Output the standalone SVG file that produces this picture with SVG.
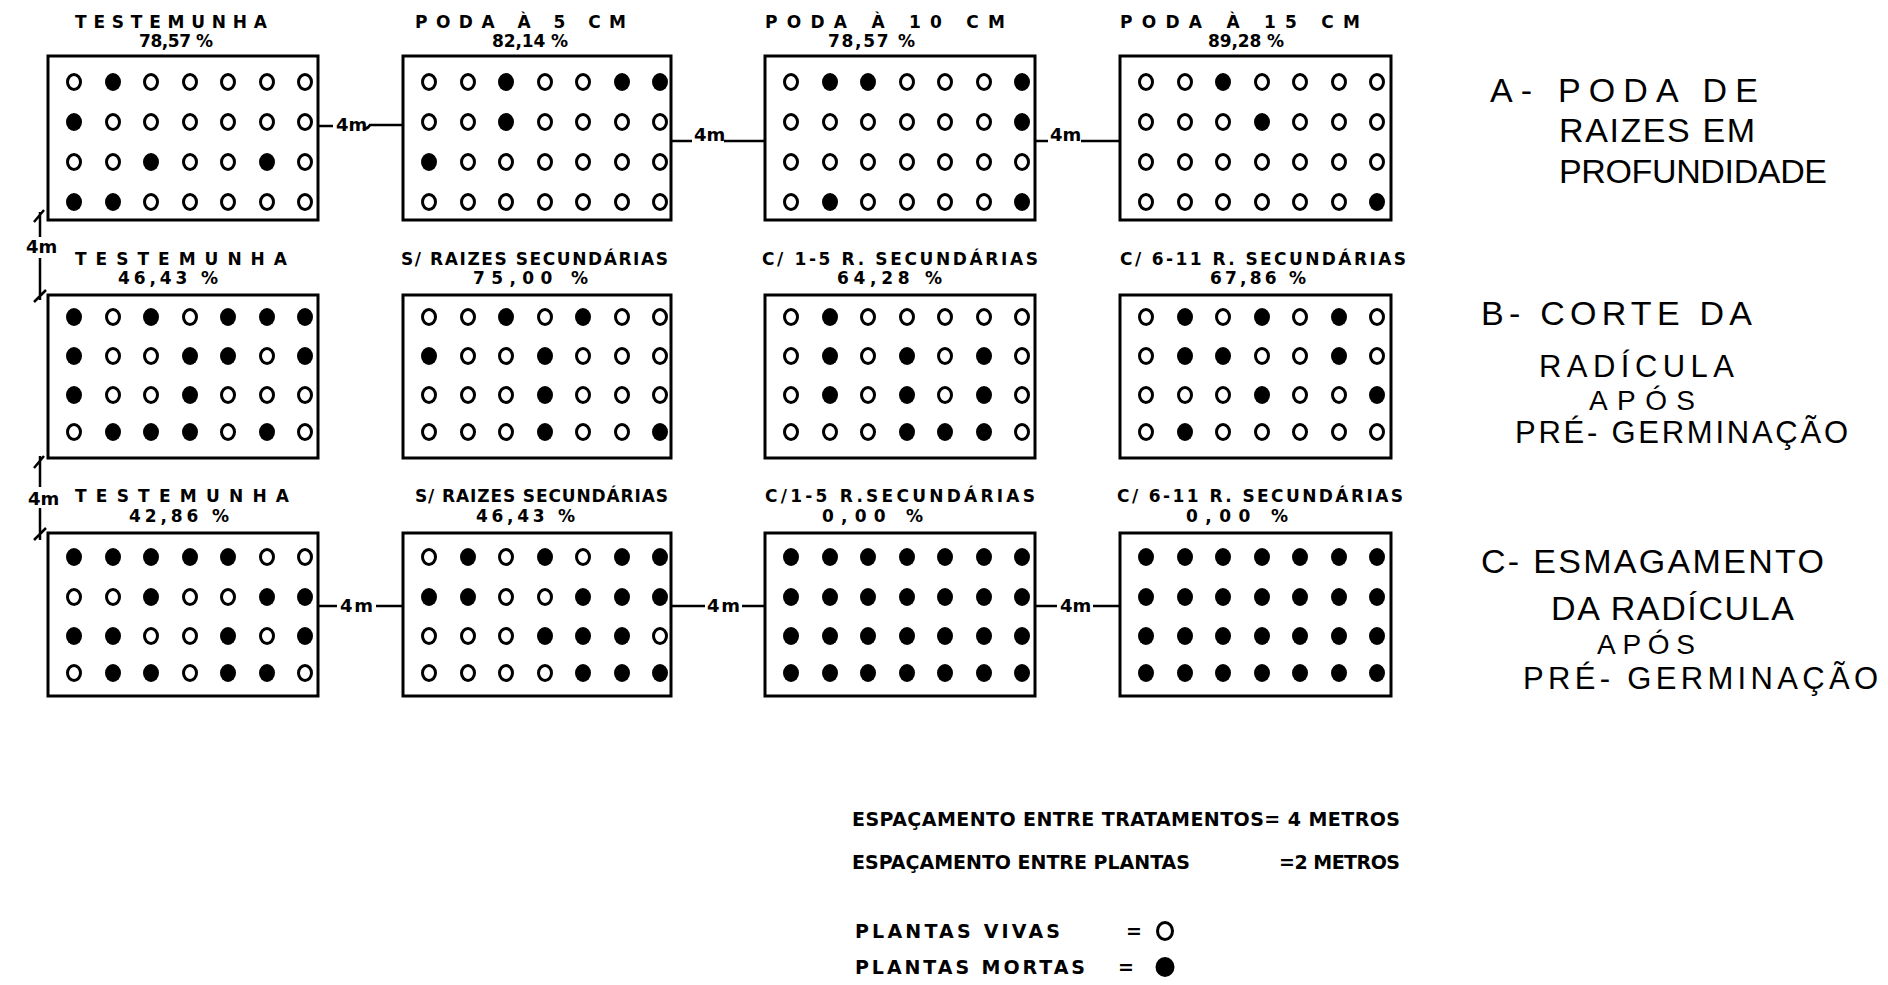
<svg xmlns="http://www.w3.org/2000/svg" xmlns:xlink="http://www.w3.org/1999/xlink" width="1888" height="985" viewBox="0 0 1888 985">
<style>
.bx{fill:none;stroke:#000;stroke-width:3}
.o{fill:none;stroke:#000;stroke-width:3}
.d{fill:#000}
.t{font-family:"DejaVu Sans","Liberation Sans",sans-serif;font-weight:bold;font-size:17px;fill:#000}
.m{font-family:"DejaVu Sans","Liberation Sans",sans-serif;font-weight:bold;font-size:18px;fill:#000}
.r{font-family:"Liberation Sans",Arial,sans-serif;font-size:34px;fill:#000}
.r2{font-family:"Liberation Sans",Arial,sans-serif;font-size:31px;fill:#000}
.r3{font-family:"Liberation Sans",Arial,sans-serif;font-size:28px;fill:#000}
.l{font-family:"DejaVu Sans","Liberation Sans",sans-serif;font-weight:bold;font-size:19px;fill:#000}
.c{fill:none;stroke:#000;stroke-width:2.5}
</style>
<defs>
<ellipse id="o" rx="6.5" ry="7.5" class="o"/>
<ellipse id="d" rx="8" ry="9" class="d"/>
</defs>
<rect width="1888" height="985" fill="#fff"/>

<g id="A1" transform="translate(48,56)">
<text class="t" x="27" y="-28" textLength="192" lengthAdjust="spacing">TESTEMUNHA</text>
<text class="t" x="91" y="-9" textLength="74" lengthAdjust="spacing">78,57 %</text>
<rect class="bx" x="0" y="0" width="270" height="164"/>
<g transform="translate(0,26)"><use href="#o" x="26"/><use href="#d" x="65"/><use href="#o" x="103"/><use href="#o" x="142"/><use href="#o" x="180"/><use href="#o" x="219"/><use href="#o" x="257"/></g>
<g transform="translate(0,66)"><use href="#d" x="26"/><use href="#o" x="65"/><use href="#o" x="103"/><use href="#o" x="142"/><use href="#o" x="180"/><use href="#o" x="219"/><use href="#o" x="257"/></g>
<g transform="translate(0,106)"><use href="#o" x="26"/><use href="#o" x="65"/><use href="#d" x="103"/><use href="#o" x="142"/><use href="#o" x="180"/><use href="#d" x="219"/><use href="#o" x="257"/></g>
<g transform="translate(0,146)"><use href="#d" x="26"/><use href="#d" x="65"/><use href="#o" x="103"/><use href="#o" x="142"/><use href="#o" x="180"/><use href="#o" x="219"/><use href="#o" x="257"/></g>
</g>

<g id="A2" transform="translate(403,56)">
<text class="t" x="12" y="-28" textLength="211" lengthAdjust="spacing">PODA À 5 CM</text>
<text class="t" x="89" y="-9" textLength="76" lengthAdjust="spacing">82,14 %</text>
<rect class="bx" x="0" y="0" width="268" height="164"/>
<g transform="translate(0,26)"><use href="#o" x="26"/><use href="#o" x="65"/><use href="#d" x="103"/><use href="#o" x="142"/><use href="#o" x="180"/><use href="#d" x="219"/><use href="#d" x="257"/></g>
<g transform="translate(0,66)"><use href="#o" x="26"/><use href="#o" x="65"/><use href="#d" x="103"/><use href="#o" x="142"/><use href="#o" x="180"/><use href="#o" x="219"/><use href="#o" x="257"/></g>
<g transform="translate(0,106)"><use href="#d" x="26"/><use href="#o" x="65"/><use href="#o" x="103"/><use href="#o" x="142"/><use href="#o" x="180"/><use href="#o" x="219"/><use href="#o" x="257"/></g>
<g transform="translate(0,146)"><use href="#o" x="26"/><use href="#o" x="65"/><use href="#o" x="103"/><use href="#o" x="142"/><use href="#o" x="180"/><use href="#o" x="219"/><use href="#o" x="257"/></g>
</g>

<g id="A3" transform="translate(765,56)">
<text class="t" x="0" y="-28" textLength="240" lengthAdjust="spacing">PODA À 10 CM</text>
<text class="t" x="63" y="-9" textLength="87" lengthAdjust="spacing">78,57 %</text>
<rect class="bx" x="0" y="0" width="270" height="164"/>
<g transform="translate(0,26)"><use href="#o" x="26"/><use href="#d" x="65"/><use href="#d" x="103"/><use href="#o" x="142"/><use href="#o" x="180"/><use href="#o" x="219"/><use href="#d" x="257"/></g>
<g transform="translate(0,66)"><use href="#o" x="26"/><use href="#o" x="65"/><use href="#o" x="103"/><use href="#o" x="142"/><use href="#o" x="180"/><use href="#o" x="219"/><use href="#d" x="257"/></g>
<g transform="translate(0,106)"><use href="#o" x="26"/><use href="#o" x="65"/><use href="#o" x="103"/><use href="#o" x="142"/><use href="#o" x="180"/><use href="#o" x="219"/><use href="#o" x="257"/></g>
<g transform="translate(0,146)"><use href="#o" x="26"/><use href="#d" x="65"/><use href="#o" x="103"/><use href="#o" x="142"/><use href="#o" x="180"/><use href="#o" x="219"/><use href="#d" x="257"/></g>
</g>

<g id="A4" transform="translate(1120,56)">
<text class="t" x="0" y="-28" textLength="240" lengthAdjust="spacing">PODA À 15 CM</text>
<text class="t" x="88" y="-9" textLength="76" lengthAdjust="spacing">89,28 %</text>
<rect class="bx" x="0" y="0" width="271" height="164"/>
<g transform="translate(0,26)"><use href="#o" x="26"/><use href="#o" x="65"/><use href="#d" x="103"/><use href="#o" x="142"/><use href="#o" x="180"/><use href="#o" x="219"/><use href="#o" x="257"/></g>
<g transform="translate(0,66)"><use href="#o" x="26"/><use href="#o" x="65"/><use href="#o" x="103"/><use href="#d" x="142"/><use href="#o" x="180"/><use href="#o" x="219"/><use href="#o" x="257"/></g>
<g transform="translate(0,106)"><use href="#o" x="26"/><use href="#o" x="65"/><use href="#o" x="103"/><use href="#o" x="142"/><use href="#o" x="180"/><use href="#o" x="219"/><use href="#o" x="257"/></g>
<g transform="translate(0,146)"><use href="#o" x="26"/><use href="#o" x="65"/><use href="#o" x="103"/><use href="#o" x="142"/><use href="#o" x="180"/><use href="#o" x="219"/><use href="#d" x="257"/></g>
</g>

<g id="B1" transform="translate(48,295)">
<text class="t" x="27" y="-30" textLength="212" lengthAdjust="spacing">TESTEMUNHA</text>
<text class="t" x="70" y="-11" textLength="100" lengthAdjust="spacing">46,43 %</text>
<rect class="bx" x="0" y="0" width="270" height="163"/>
<g transform="translate(0,22)"><use href="#d" x="26"/><use href="#o" x="65"/><use href="#d" x="103"/><use href="#o" x="142"/><use href="#d" x="180"/><use href="#d" x="219"/><use href="#d" x="257"/></g>
<g transform="translate(0,61)"><use href="#d" x="26"/><use href="#o" x="65"/><use href="#o" x="103"/><use href="#d" x="142"/><use href="#d" x="180"/><use href="#o" x="219"/><use href="#d" x="257"/></g>
<g transform="translate(0,100)"><use href="#d" x="26"/><use href="#o" x="65"/><use href="#o" x="103"/><use href="#d" x="142"/><use href="#o" x="180"/><use href="#o" x="219"/><use href="#o" x="257"/></g>
<g transform="translate(0,137)"><use href="#o" x="26"/><use href="#d" x="65"/><use href="#d" x="103"/><use href="#d" x="142"/><use href="#o" x="180"/><use href="#d" x="219"/><use href="#o" x="257"/></g>
</g>

<g id="B2" transform="translate(403,295)">
<text class="t" x="-2" y="-30" textLength="267" lengthAdjust="spacing">S/ RAIZES SECUNDÁRIAS</text>
<text class="t" x="70" y="-11" textLength="115" lengthAdjust="spacing">75,00 %</text>
<rect class="bx" x="0" y="0" width="268" height="163"/>
<g transform="translate(0,22)"><use href="#o" x="26"/><use href="#o" x="65"/><use href="#d" x="103"/><use href="#o" x="142"/><use href="#d" x="180"/><use href="#o" x="219"/><use href="#o" x="257"/></g>
<g transform="translate(0,61)"><use href="#d" x="26"/><use href="#o" x="65"/><use href="#o" x="103"/><use href="#d" x="142"/><use href="#o" x="180"/><use href="#o" x="219"/><use href="#o" x="257"/></g>
<g transform="translate(0,100)"><use href="#o" x="26"/><use href="#o" x="65"/><use href="#o" x="103"/><use href="#d" x="142"/><use href="#o" x="180"/><use href="#o" x="219"/><use href="#o" x="257"/></g>
<g transform="translate(0,137)"><use href="#o" x="26"/><use href="#o" x="65"/><use href="#o" x="103"/><use href="#d" x="142"/><use href="#o" x="180"/><use href="#o" x="219"/><use href="#d" x="257"/></g>
</g>

<g id="B3" transform="translate(765,295)">
<text class="t" x="-3" y="-30" textLength="276" lengthAdjust="spacing">C/ 1-5 R. SECUNDÁRIAS</text>
<text class="t" x="72" y="-11" textLength="105" lengthAdjust="spacing">64,28 %</text>
<rect class="bx" x="0" y="0" width="270" height="163"/>
<g transform="translate(0,22)"><use href="#o" x="26"/><use href="#d" x="65"/><use href="#o" x="103"/><use href="#o" x="142"/><use href="#o" x="180"/><use href="#o" x="219"/><use href="#o" x="257"/></g>
<g transform="translate(0,61)"><use href="#o" x="26"/><use href="#d" x="65"/><use href="#o" x="103"/><use href="#d" x="142"/><use href="#o" x="180"/><use href="#d" x="219"/><use href="#o" x="257"/></g>
<g transform="translate(0,100)"><use href="#o" x="26"/><use href="#d" x="65"/><use href="#o" x="103"/><use href="#d" x="142"/><use href="#o" x="180"/><use href="#d" x="219"/><use href="#o" x="257"/></g>
<g transform="translate(0,137)"><use href="#o" x="26"/><use href="#o" x="65"/><use href="#o" x="103"/><use href="#d" x="142"/><use href="#d" x="180"/><use href="#d" x="219"/><use href="#o" x="257"/></g>
</g>

<g id="B4" transform="translate(1120,295)">
<text class="t" x="0" y="-30" textLength="286" lengthAdjust="spacing">C/ 6-11 R. SECUNDÁRIAS</text>
<text class="t" x="90" y="-11" textLength="96" lengthAdjust="spacing">67,86 %</text>
<rect class="bx" x="0" y="0" width="271" height="163"/>
<g transform="translate(0,22)"><use href="#o" x="26"/><use href="#d" x="65"/><use href="#o" x="103"/><use href="#d" x="142"/><use href="#o" x="180"/><use href="#d" x="219"/><use href="#o" x="257"/></g>
<g transform="translate(0,61)"><use href="#o" x="26"/><use href="#d" x="65"/><use href="#d" x="103"/><use href="#o" x="142"/><use href="#o" x="180"/><use href="#d" x="219"/><use href="#o" x="257"/></g>
<g transform="translate(0,100)"><use href="#o" x="26"/><use href="#o" x="65"/><use href="#o" x="103"/><use href="#d" x="142"/><use href="#o" x="180"/><use href="#o" x="219"/><use href="#d" x="257"/></g>
<g transform="translate(0,137)"><use href="#o" x="26"/><use href="#d" x="65"/><use href="#o" x="103"/><use href="#o" x="142"/><use href="#o" x="180"/><use href="#o" x="219"/><use href="#o" x="257"/></g>
</g>

<g id="C1" transform="translate(48,533)">
<text class="t" x="27" y="-31" textLength="214" lengthAdjust="spacing">TESTEMUNHA</text>
<text class="t" x="81" y="-11" textLength="100" lengthAdjust="spacing">42,86 %</text>
<rect class="bx" x="0" y="0" width="270" height="163"/>
<g transform="translate(0,24)"><use href="#d" x="26"/><use href="#d" x="65"/><use href="#d" x="103"/><use href="#d" x="142"/><use href="#d" x="180"/><use href="#o" x="219"/><use href="#o" x="257"/></g>
<g transform="translate(0,64)"><use href="#o" x="26"/><use href="#o" x="65"/><use href="#d" x="103"/><use href="#o" x="142"/><use href="#o" x="180"/><use href="#d" x="219"/><use href="#d" x="257"/></g>
<g transform="translate(0,103)"><use href="#d" x="26"/><use href="#d" x="65"/><use href="#o" x="103"/><use href="#o" x="142"/><use href="#d" x="180"/><use href="#o" x="219"/><use href="#d" x="257"/></g>
<g transform="translate(0,140)"><use href="#o" x="26"/><use href="#d" x="65"/><use href="#d" x="103"/><use href="#o" x="142"/><use href="#d" x="180"/><use href="#d" x="219"/><use href="#o" x="257"/></g>
</g>

<g id="C2" transform="translate(403,533)">
<text class="t" x="12" y="-31" textLength="253" lengthAdjust="spacing">S/ RAIZES SECUNDÁRIAS</text>
<text class="t" x="73" y="-11" textLength="99" lengthAdjust="spacing">46,43 %</text>
<rect class="bx" x="0" y="0" width="268" height="163"/>
<g transform="translate(0,24)"><use href="#o" x="26"/><use href="#d" x="65"/><use href="#o" x="103"/><use href="#d" x="142"/><use href="#o" x="180"/><use href="#d" x="219"/><use href="#d" x="257"/></g>
<g transform="translate(0,64)"><use href="#d" x="26"/><use href="#d" x="65"/><use href="#o" x="103"/><use href="#o" x="142"/><use href="#d" x="180"/><use href="#d" x="219"/><use href="#d" x="257"/></g>
<g transform="translate(0,103)"><use href="#o" x="26"/><use href="#o" x="65"/><use href="#o" x="103"/><use href="#d" x="142"/><use href="#d" x="180"/><use href="#d" x="219"/><use href="#o" x="257"/></g>
<g transform="translate(0,140)"><use href="#o" x="26"/><use href="#o" x="65"/><use href="#o" x="103"/><use href="#o" x="142"/><use href="#d" x="180"/><use href="#d" x="219"/><use href="#d" x="257"/></g>
</g>

<g id="C3" transform="translate(765,533)">
<text class="t" x="0" y="-31" textLength="270" lengthAdjust="spacing">C/1-5 R.SECUNDÁRIAS</text>
<text class="t" x="57" y="-11" textLength="101" lengthAdjust="spacing">0,00 %</text>
<rect class="bx" x="0" y="0" width="270" height="163"/>
<g transform="translate(0,24)"><use href="#d" x="26"/><use href="#d" x="65"/><use href="#d" x="103"/><use href="#d" x="142"/><use href="#d" x="180"/><use href="#d" x="219"/><use href="#d" x="257"/></g>
<g transform="translate(0,64)"><use href="#d" x="26"/><use href="#d" x="65"/><use href="#d" x="103"/><use href="#d" x="142"/><use href="#d" x="180"/><use href="#d" x="219"/><use href="#d" x="257"/></g>
<g transform="translate(0,103)"><use href="#d" x="26"/><use href="#d" x="65"/><use href="#d" x="103"/><use href="#d" x="142"/><use href="#d" x="180"/><use href="#d" x="219"/><use href="#d" x="257"/></g>
<g transform="translate(0,140)"><use href="#d" x="26"/><use href="#d" x="65"/><use href="#d" x="103"/><use href="#d" x="142"/><use href="#d" x="180"/><use href="#d" x="219"/><use href="#d" x="257"/></g>
</g>

<g id="C4" transform="translate(1120,533)">
<text class="t" x="-3" y="-31" textLength="286" lengthAdjust="spacing">C/ 6-11 R. SECUNDÁRIAS</text>
<text class="t" x="66" y="-11" textLength="102" lengthAdjust="spacing">0,00 %</text>
<rect class="bx" x="0" y="0" width="271" height="163"/>
<g transform="translate(0,24)"><use href="#d" x="26"/><use href="#d" x="65"/><use href="#d" x="103"/><use href="#d" x="142"/><use href="#d" x="180"/><use href="#d" x="219"/><use href="#d" x="257"/></g>
<g transform="translate(0,64)"><use href="#d" x="26"/><use href="#d" x="65"/><use href="#d" x="103"/><use href="#d" x="142"/><use href="#d" x="180"/><use href="#d" x="219"/><use href="#d" x="257"/></g>
<g transform="translate(0,103)"><use href="#d" x="26"/><use href="#d" x="65"/><use href="#d" x="103"/><use href="#d" x="142"/><use href="#d" x="180"/><use href="#d" x="219"/><use href="#d" x="257"/></g>
<g transform="translate(0,140)"><use href="#d" x="26"/><use href="#d" x="65"/><use href="#d" x="103"/><use href="#d" x="142"/><use href="#d" x="180"/><use href="#d" x="219"/><use href="#d" x="257"/></g>
</g>

<g id="connectors">
<path class="c" d="M318,126 H333 M363,128 Q367,130 370,125 H403"/>
<text class="m" x="336" y="131">4m</text>
<path class="c" d="M671,141 H692 M724,141 H765"/>
<text class="m" x="694" y="141">4m</text>
<path class="c" d="M1035,141 H1048 M1081,141 H1120"/>
<text class="m" x="1050" y="141">4m</text>
<path class="c" d="M318,606 H337 M376,606 H403"/>
<text class="m" x="340" y="612" textLength="33" lengthAdjust="spacing">4 m</text>
<path class="c" d="M671,606 H705 M742,606 H765"/>
<text class="m" x="707" y="612" textLength="33" lengthAdjust="spacing">4 m</text>
<path class="c" d="M1035,606 H1057 M1093,606 H1120"/>
<text class="m" x="1060" y="612">4m</text>
<path class="c" d="M40,212 V237 M40,258 V300 M34,222 L44,210 M34,302 L46,290"/>
<text class="m" x="26" y="253">4m</text>
<path class="c" d="M40,456 V487 M40,508 V540 M34,468 L44,456 M34,540 L46,528"/>
<text class="m" x="28" y="505">4m</text>
</g>

<g id="labels">
<text class="r" x="1490" y="102" textLength="268" lengthAdjust="spacing">A- PODA  DE</text>
<text class="r" x="1559" y="142" textLength="196" lengthAdjust="spacing">RAIZES EM</text>
<text class="r" x="1559" y="183" textLength="268" lengthAdjust="spacing">PROFUNDIDADE</text>
<text class="r" x="1481" y="325" textLength="271" lengthAdjust="spacing">B- CORTE DA</text>
<text class="r2" x="1539" y="377" textLength="195" lengthAdjust="spacing">RADÍCULA</text>
<text class="r3" x="1589" y="410" textLength="106" lengthAdjust="spacing">APÓS</text>
<text class="r2" x="1515" y="443" textLength="333" lengthAdjust="spacing">PRÉ- GERMINAÇÃO</text>
<text class="r" x="1481" y="573" textLength="343" lengthAdjust="spacing">C- ESMAGAMENTO</text>
<text class="r" x="1551" y="620" textLength="243" lengthAdjust="spacing">DA RADÍCULA</text>
<text class="r3" x="1597" y="654" textLength="98" lengthAdjust="spacing">APÓS</text>
<text class="r2" x="1523" y="689" textLength="355" lengthAdjust="spacing">PRÉ- GERMINAÇÃO</text>
</g>

<g id="legend">
<text class="l" x="852" y="826" textLength="548" lengthAdjust="spacing">ESPAÇAMENTO ENTRE TRATAMENTOS= 4 METROS</text>
<text class="l" x="852" y="869" textLength="338" lengthAdjust="spacing">ESPAÇAMENTO ENTRE PLANTAS</text>
<text class="l" x="1279" y="869" textLength="121" lengthAdjust="spacing">=2 METROS</text>
<text class="l" x="855" y="938" textLength="205" lengthAdjust="spacing">PLANTAS VIVAS</text>
<text class="l" x="1126" y="938">=</text>
<ellipse cx="1165" cy="931" rx="7.5" ry="8.5" class="o"/>
<text class="l" x="855" y="974" textLength="230" lengthAdjust="spacing">PLANTAS MORTAS</text>
<text class="l" x="1118" y="974">=</text>
<ellipse cx="1165" cy="967" rx="9.5" ry="10" class="d"/>
</g>
</svg>
